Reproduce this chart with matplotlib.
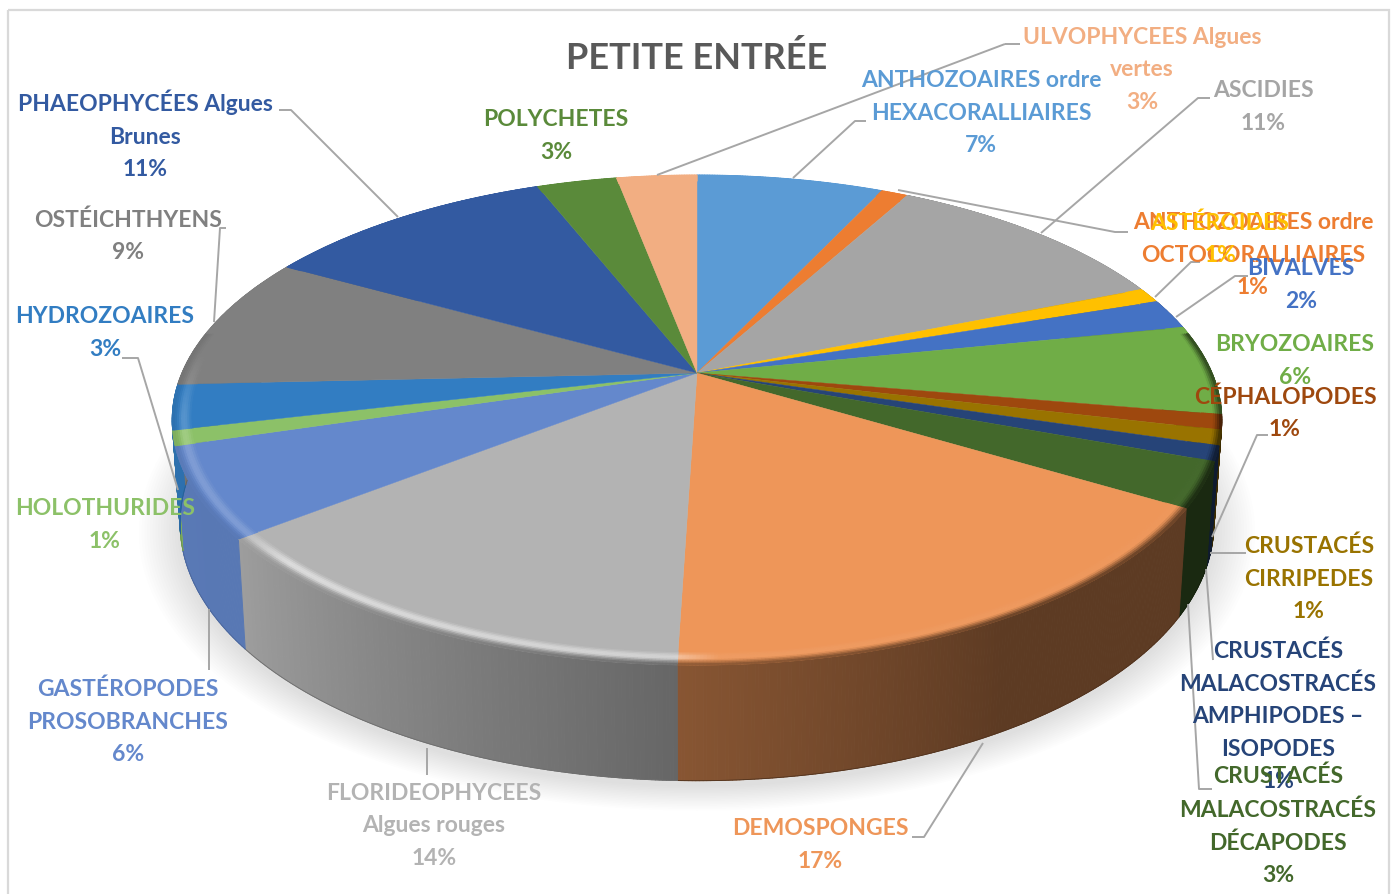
"""3D pie chart PETITE ENTREE, drawn with polygons in pixel coordinates."""
import numpy as np
from matplotlib import pyplot
from matplotlib.collections import PolyCollection
from matplotlib.colors import to_rgb
from matplotlib.patches import Rectangle

pyplot.rcParams['font.family'] = ['Lato', 'DejaVu Sans']

title = "PETITE ENTRÉE"
names = [
    "ANTHOZOAIRES ordre\nHEXACORALLIAIRES",
    "ANTHOZOAIRES ordre\nOCTOCORALLIAIRES",
    "ASCIDIES",
    "ASTÉROIDES",
    "BIVALVES",
    "BRYOZOAIRES",
    "CÉPHALOPODES",
    "CRUSTACÉS\nCIRRIPEDES",
    "CRUSTACÉS\nMALACOSTRACÉS\nAMPHIPODES –\nISOPODES",
    "CRUSTACÉS\nMALACOSTRACÉS\nDÉCAPODES",
    "DEMOSPONGES",
    "FLORIDEOPHYCEES\nAlgues rouges",
    "GASTÉROPODES\nPROSOBRANCHES",
    "HOLOTHURIDES",
    "HYDROZOAIRES",
    "OSTÉICHTHYENS",
    "PHAEOPHYCÉES Algues\nBrunes",
    "POLYCHETES",
    "ULVOPHYCEES Algues\nvertes",
]
percents = [7, 1, 11, 1, 2, 6, 1, 1, 1, 3, 17, 14, 6, 1, 3, 9, 11, 3, 3]
colors = [
    "#5b9bd5", "#ed7d31", "#a5a5a5", "#ffc000", "#4472c4", "#70ad47",
    "#9e480e", "#997300", "#264478", "#43682b", "#ee9659", "#b3b3b3",
    "#6488cc", "#8cc168", "#327dc2", "#808080", "#335aa1", "#5a8a3a",
    "#f2ae82",
]

# layout, in pixels of the reference
label_x = [981, 1253, 1263, 1220, 1301, 1295, 1285, 1309, 1278, 1278,
           820, 434, 128, 105, 105, 128, 145, 556, 1142]
label_y = [113, 255, 107, 239, 285, 361, 413, 579, 716, 826,
           845, 826, 722, 525, 333, 236, 135, 136, 70]
leaders = [
    [(866, 121), (855, 121), (793, 178)],
    [(1128, 232), (1115, 232), (898, 190)],
    [(1210, 98), (1198, 98), (1041, 233)],
    [(1200, 262), (1191, 262), (1155, 297)],
    [(1248, 276), (1235, 276), (1176, 317)],
    [(1268, 435), (1257, 435), (1212, 537)],
    [(1246, 553), (1210, 553)],
    [(1213, 660), (1206, 569)],
    [(1212, 789), (1199, 789), (1188, 604)],
    [(912, 837), (924, 837), (983, 743)],
    [(427, 775), (427, 748)],
    [(209, 670), (209, 609)],
    [(122, 358), (138, 358), (178, 490)],
    [(226, 228), (220, 228), (214, 322)],
    [(279, 110), (291, 110), (398, 217)],
    [(1005, 44), (1020, 44)],
    [(1005, 44), (657, 175)],
]

CX, CY = 697.0, 373.0
RX, RY, PERSP = 515.0, 236.0, 0.192
FONT = 16.5
RIM = 0.962


def top_ring(theta, r=1.0):
    """Project clockwise angles (degrees from 12 o'clock) on the top face."""
    t = np.radians(theta)
    u, v = r * np.sin(t), r * np.cos(t)
    w = 1 + PERSP * v
    return CX + RX * u / w, CY - RY * v / w


def bottom_ring(theta):
    """Lower edge of the side wall."""
    t = np.radians(theta)
    u, v = np.sin(t), np.cos(t)
    w = 1 + PERSP * v
    k = 0.985
    return CX + k * RX * u / w, CY - k * RY * v / w + 100 - 20 * v


def wall_shade(theta):
    return np.interp(theta, [90, 150, 180, 232, 270], [.39, .39, .56, .88, .9])


def rim_light(theta):
    return np.interp(theta, [100, 178, 182, 225, 232, 260, 275], [0, .06, .42, .55, .18, .18, 0])


def strip_polys(x0, y0, x1, y1):
    """Quads between two polylines."""
    polys = []
    for i in range(len(x0) - 1):
        polys.append([(x0[i], y0[i]), (x0[i + 1], y0[i + 1]), (x1[i + 1], y1[i + 1]), (x1[i], y1[i])])
    return polys


def add_strips(ax, polys, cols, z):
    ax.add_collection(PolyCollection(polys, facecolors=cols, edgecolors=cols, linewidths=0.7, zorder=z))


fig = pyplot.figure(figsize=(13.92, 8.94), dpi=100)
ax = fig.add_axes([0, 0, 1, 1])
ax.set_xlim(0, 1392)
ax.set_ylim(894, 0)
ax.set_axis_off()

ax.add_patch(Rectangle((8, 10), 1381, 900, fill=False, edgecolor="#d9d9d9", linewidth=1.6, zorder=0))

edges = np.concatenate([[0], np.cumsum(percents)]) / np.sum(percents) * 360.0

# soft shadow under the disc
full = np.linspace(0, 360, 361)
bx, by = bottom_ring(full)
for s in np.linspace(1.08, 1.0, 16):
    ax.fill(CX + (bx - CX) * s, 480 + (by - 480) * s + 6, color="black", alpha=0.009, linewidth=0, zorder=1)

for start, stop, col in zip(edges[:-1], edges[1:], colors):
    base = np.array(to_rgb(col))
    steps = max(int((stop - start) * 3), 3)
    th = np.linspace(start, stop, steps + 1)
    mid = (th[:-1] + th[1:]) / 2

    # side wall
    if stop > 60 and start < 300:
        x0, y0 = top_ring(th)
        x1, y1 = bottom_ring(th)
        cols = [tuple(base * wall_shade(m)) for m in mid]
        add_strips(ax, strip_polys(x0, y0, x1, y1), cols, 2)
        ax.plot(x1, y1, color=tuple(base * wall_shade(th.mean()) * 0.85), linewidth=0.6, zorder=2)

    # top face
    x0, y0 = top_ring(th)
    ax.fill(np.r_[CX, x0], np.r_[CY, y0], color=col, linewidth=0.3, zorder=3)

    # bevel along the front edge
    radii = np.linspace(RIM, 1.0, 11)
    for r0, r1 in zip(radii[:-1], radii[1:]):
        t = ((r0 + r1) / 2 - RIM) / (1 - RIM)
        polys = strip_polys(*top_ring(th, r0), *top_ring(th, r1))
        cols = []
        for m in mid:
            c = base + (1 - base) * rim_light(m) * np.sin(np.pi * min(t / 0.9, 1)) ** 2
            if 80 < m < 280 and t > 0.6:
                c = c + (base * wall_shade(m) - c) * (t - 0.6) / 0.4
            cols.append(tuple(c))
        add_strips(ax, polys, cols, 4)

for line in leaders:
    xs, ys = zip(*line)
    ax.plot(xs, ys, color="#a6a6a6", linewidth=1.4, solid_capstyle="butt", zorder=5)

for name, pct, col, lx, ly in zip(names, percents, colors, label_x, label_y):
    ax.text(lx, ly, "{}\n{}%".format(name, pct), color=col, fontsize=FONT, fontweight="bold",
            ha="center", va="center", multialignment="center", linespacing=1.67, zorder=6)

ax.text(697, 58, title, color="#595959", fontsize=26, fontweight="bold", ha="center", va="center", zorder=6)

fig.savefig("out.png", dpi=100, facecolor="white")
